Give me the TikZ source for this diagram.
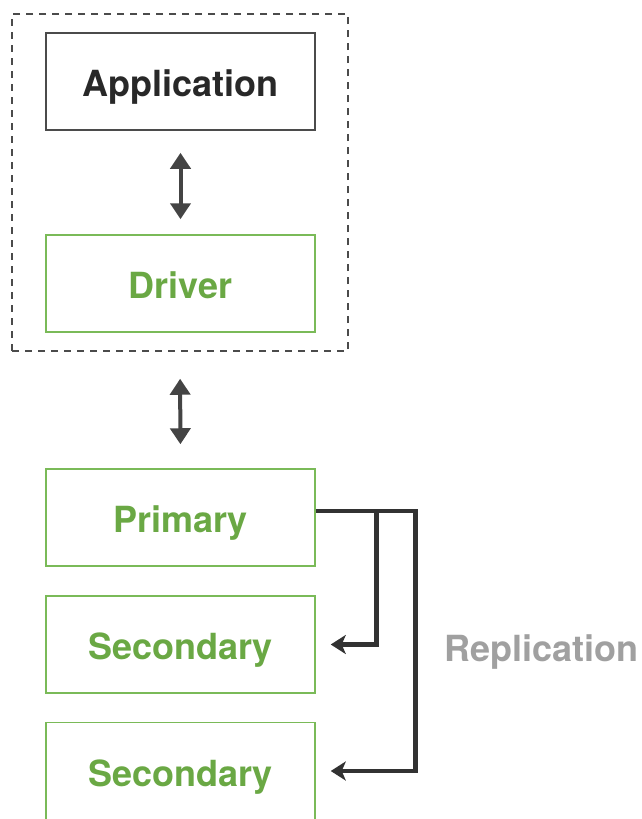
\documentclass[tikz,border=0pt]{standalone}
\usepackage{fontspec}
\setmainfont{TeX Gyre Heros}
\usetikzlibrary{arrows.meta}
\definecolor{grn}{RGB}{106,168,68}
\definecolor{grnline}{RGB}{122,186,88}
\definecolor{darktext}{RGB}{40,40,40}
\definecolor{boxgray}{RGB}{75,75,75}
\definecolor{arrowgray}{RGB}{68,68,68}
\definecolor{repline}{RGB}{50,50,50}
\definecolor{reptext}{RGB}{160,160,160}
\tikzset{
  box/.style={draw, line width=0.75pt, minimum width=134.5pt, minimum height=48.5pt,
    inner sep=0pt, font=\bfseries\fontsize{18}{20}\selectfont, text height=15pt, text depth=0pt},
  appbox/.style={box, draw=boxgray, text=darktext},
  gbox/.style={box, draw=grnline, text=grn},
  group/.style={draw=boxgray, dash pattern=on 3.5pt off 3pt, line width=0.75pt,
    minimum width=168pt, minimum height=168.5pt, inner sep=0pt},
  dbl/.style={draw=arrowgray, line width=2pt, {Triangle[width=10pt,length=8pt]}-{Triangle[width=10pt,length=8pt]}},
  repl/.style={draw=repline, line width=2.4pt, -{Stealth[width=9.5pt,length=7.5pt,inset=2pt]}},
  lbl/.style={font=\bfseries\fontsize{18}{20}\selectfont, text=reptext, inner sep=0pt, text height=13pt, text depth=0pt}
}
\begin{document}
\begin{tikzpicture}[x=0.5pt, y=-0.5pt]
\useasboundingbox (0,0) rectangle (642,819);
\node[group] (grp) at (180,182.5) {};
\node[appbox] (app) at (180.5,81.5) {Application};
\node[gbox] (drv) at (180.5,283.5) {Driver};
\node[gbox] (pri) at (180.5,517.5) {Primary};
\node[gbox] (sec1) at (180.5,644.5) {Secondary};
\node[gbox] (sec2) at (180.5,771) {Secondary};
\node[lbl, anchor=west] (rep) at (444,648) {Replication};
\draw[dbl, shorten <=11pt, shorten >=7.5pt] (app.south) -- (drv.north);
\draw[dbl, shorten <=13.5pt, shorten >=12pt] (grp.south) -- (pri.north);
\coordinate (rs) at ([yshift=3.25pt]pri.east);
\draw[repl] (rs) -| ([xshift=30.5pt]sec1.east) -- ([xshift=7.5pt]sec1.east);
\draw[repl] (rs) -| ([xshift=50pt]sec2.east) -- ([xshift=7.5pt]sec2.east);
\end{tikzpicture}
\end{document}
